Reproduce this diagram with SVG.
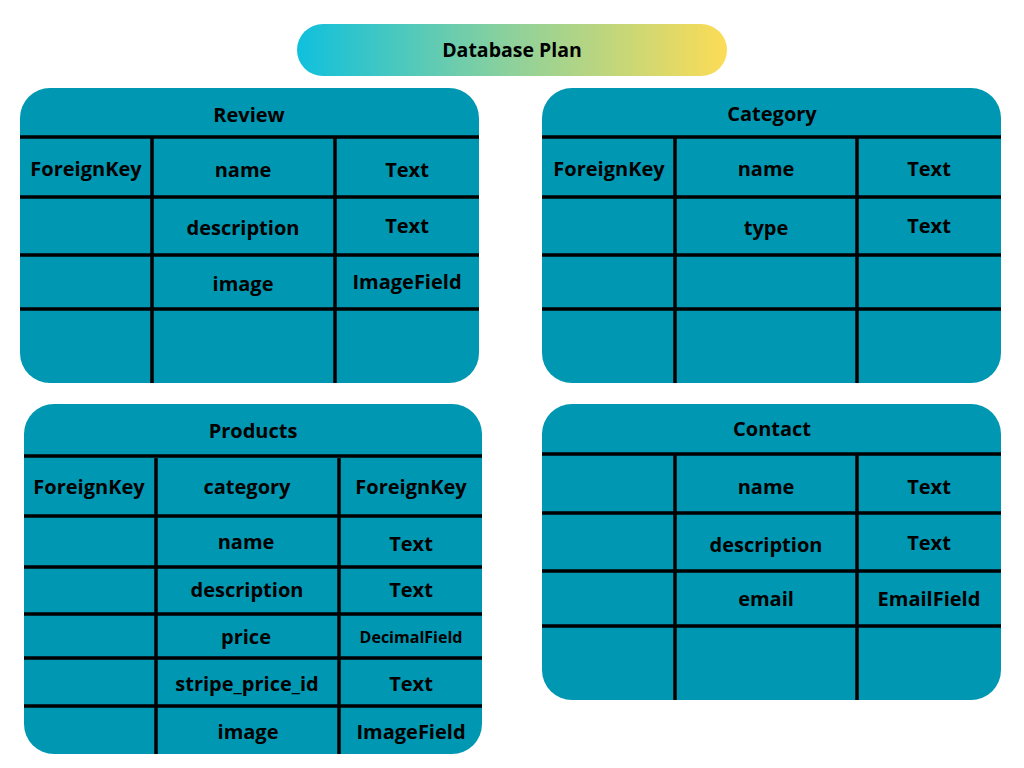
<svg xmlns="http://www.w3.org/2000/svg" width="1024" height="768" viewBox="0 0 1024 768">
<defs>
<linearGradient id="pill" x1="0" y1="0" x2="1" y2="0">
<stop offset="0" stop-color="#0fc0dd"/>
<stop offset="0.5" stop-color="#8ed19b"/>
<stop offset="1" stop-color="#fcdc56"/>
</linearGradient>
<style>
.box{fill:#0097b2}
.ln{stroke:#000;stroke-width:3.5;fill:none}
text{font-family:"Open Sans","Liberation Sans",sans-serif;font-weight:700;font-size:20px;fill:#000;text-anchor:middle}
.sm{font-size:16px}
</style>
</defs>
<rect width="1024" height="768" fill="#fff"/>
<g id="title">
<rect x="297" y="24" width="430" height="52" rx="26" fill="url(#pill)"/>
<text x="512" y="57" style="font-size:19.5px">Database Plan</text>
</g>
<g id="review">
<rect class="box" x="20" y="88" width="459" height="295" rx="30"/>
<path class="ln" d="M20 137H479M20 197H479M20 255H479M20 309H479M152 137V383M335 137V383"/>
<text x="249" y="122">Review</text>
<text x="86" y="176">ForeignKey</text>
<text x="243" y="177">name</text>
<text x="407" y="177">Text</text>
<text x="243" y="235">description</text>
<text x="407" y="233">Text</text>
<text x="243" y="291">image</text>
<text x="407" y="289">ImageField</text>
</g>
<g id="category">
<rect class="box" x="542" y="88" width="459" height="295" rx="30"/>
<path class="ln" d="M542 137H1001M542 197H1001M542 255H1001M542 309H1001M675 137V383M857 137V383"/>
<text x="772" y="121">Category</text>
<text x="609" y="176">ForeignKey</text>
<text x="766" y="176">name</text>
<text x="929" y="176">Text</text>
<text x="766" y="235">type</text>
<text x="929" y="233">Text</text>
</g>
<g id="products">
<rect class="box" x="24" y="404" width="458" height="350" rx="30"/>
<path class="ln" d="M24 456H482M24 516H482M24 567H482M24 614H482M24 658H482M24 706H482M156 458V754M339 458V754"/>
<text x="253" y="438">Products</text>
<text x="89" y="494">ForeignKey</text>
<text x="247" y="494">category</text>
<text x="411" y="494">ForeignKey</text>
<text x="246" y="549">name</text>
<text x="411" y="551">Text</text>
<text x="247" y="597">description</text>
<text x="411" y="597">Text</text>
<text x="246" y="644">price</text>
<text class="sm" x="411" y="643">DecimalField</text>
<text x="247" y="691">stripe_price_id</text>
<text x="411" y="691">Text</text>
<text x="248" y="739">image</text>
<text x="411" y="739">ImageField</text>
</g>
<g id="contact">
<rect class="box" x="542" y="404" width="459" height="296" rx="30"/>
<path class="ln" d="M542 454H1001M542 513H1001M542 571H1001M542 626H1001M675 454V700M857 454V700"/>
<text x="772" y="436">Contact</text>
<text x="766" y="494">name</text>
<text x="929" y="494">Text</text>
<text x="766" y="552">description</text>
<text x="929" y="550">Text</text>
<text x="766" y="606">email</text>
<text x="929" y="606">EmailField</text>
</g>
</svg>
